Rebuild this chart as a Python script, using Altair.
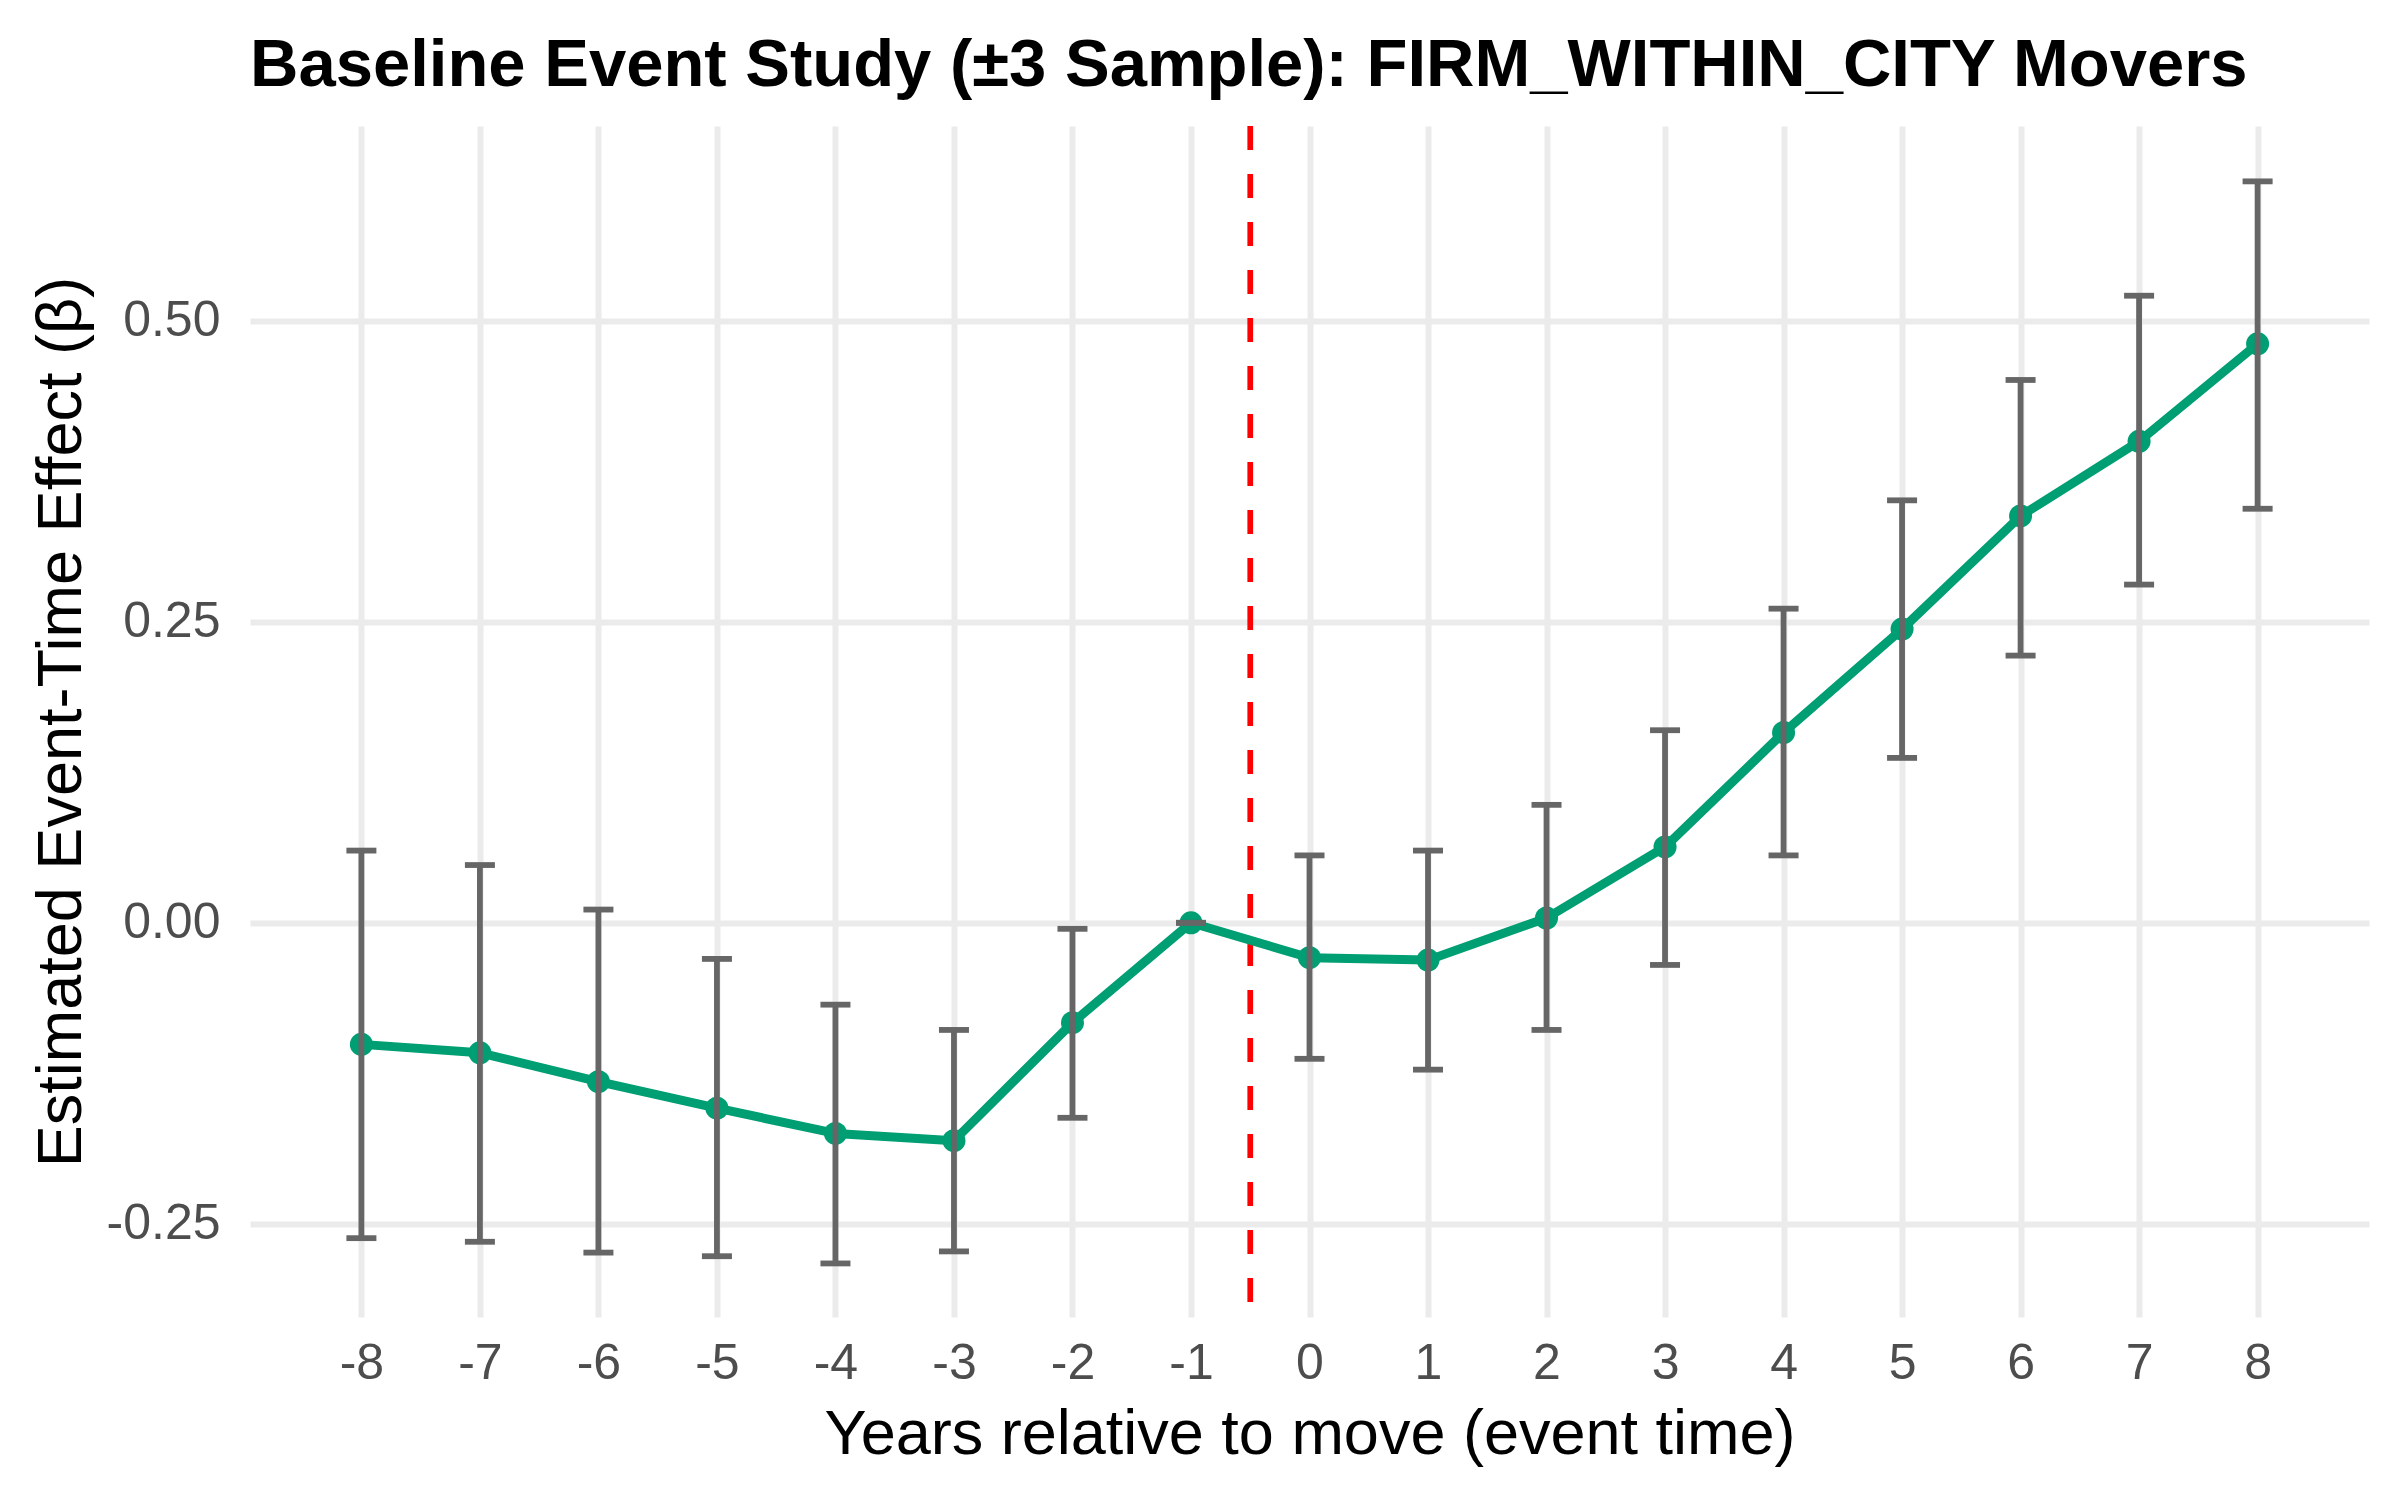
import pandas as pd
import altair as alt

# event time and estimates
event_time = [-8, -7, -6, -5, -4, -3, -2, -1, 0, 1, 2, 3, 4, 5, 6, 7, 8]
beta = [-0.101, -0.108, -0.132, -0.154, -0.175, -0.181, -0.083, 0.0,
        -0.029, -0.031, 0.004, 0.063, 0.158, 0.244, 0.338, 0.400, 0.481]
ci_low = [-0.262, -0.265, -0.274, -0.277, -0.283, -0.273, -0.162, 0.0,
          -0.113, -0.122, -0.089, -0.035, 0.056, 0.137, 0.222, 0.281, 0.344]
ci_high = [0.060, 0.048, 0.011, -0.030, -0.068, -0.089, -0.005, 0.0,
           0.056, 0.060, 0.098, 0.160, 0.261, 0.351, 0.451, 0.521, 0.616]
x_ticks = list(range(-8, 9))
y_ticks = [-0.25, 0.0, 0.25, 0.50]
move_line = [-0.5]

df = pd.DataFrame({"t": event_time, "beta": beta, "lo": ci_low, "hi": ci_high})
vline_df = pd.DataFrame({"t": move_line})

FONT = "Liberation Sans"
GREEN = "#009E73"
GREY = "#666666"

x_axis = alt.Axis(
    title="Years relative to move (event time)",
    values=x_ticks,
    format="d",
    labelExpr="replace(datum.label, '\u2212', '-')",
    labelFontSize=50, labelColor="#4D4D4D", labelPadding=21,
    titleFontSize=63, titleColor="black", titleFontWeight="normal", titlePadding=15,
    ticks=False, tickSize=0, domain=False,
    grid=True, gridColor="#EBEBEB", gridWidth=6,
    labelFont=FONT, titleFont=FONT,
)
y_axis = alt.Axis(
    title="Estimated Event-Time Effect (\u03b2)",
    values=y_ticks,
    format=".2f",
    labelExpr="replace(datum.label, '\u2212', '-')",
    labelFontSize=50, labelColor="#4D4D4D", labelPadding=30,
    titleFontSize=63, titleColor="black", titleFontWeight="normal", titlePadding=13,
    ticks=False, tickSize=0, domain=False,
    grid=True, gridColor="#EBEBEB", gridWidth=6,
    labelFont=FONT, titleFont=FONT,
)
x_scale = alt.Scale(domain=[-8.94, 8.94], nice=False, zero=False)
y_scale = alt.Scale(domain=[-0.3275, 0.662], nice=False, zero=False)

x_enc = alt.X("t:Q", scale=x_scale, axis=x_axis)

vline = (
    alt.Chart(vline_df)
    .mark_rule(color="#FF0000", strokeWidth=5.7, strokeDash=[24, 24])
    .encode(x=x_enc)
)

line = (
    alt.Chart(df)
    .mark_line(color=GREEN, strokeWidth=9, strokeJoin="round")
    .encode(x=x_enc, y=alt.Y("beta:Q", scale=y_scale, axis=y_axis))
)

points = (
    alt.Chart(df)
    .mark_circle(color=GREEN, size=530, opacity=1)
    .encode(x=x_enc, y=alt.Y("beta:Q", scale=y_scale, axis=y_axis))
)

bars = (
    alt.Chart(df)
    .mark_rule(color=GREY, strokeWidth=5.8)
    .encode(x=x_enc, y=alt.Y("lo:Q", scale=y_scale, axis=y_axis), y2="hi:Q")
)

cap_lo = (
    alt.Chart(df)
    .mark_tick(color=GREY, orient="horizontal", size=30, thickness=5.8, opacity=1)
    .encode(x=x_enc, y=alt.Y("lo:Q", scale=y_scale, axis=y_axis))
)
cap_hi = (
    alt.Chart(df)
    .mark_tick(color=GREY, orient="horizontal", size=30, thickness=5.8, opacity=1)
    .encode(x=x_enc, y=alt.Y("hi:Q", scale=y_scale, axis=y_axis))
)

chart = (
    alt.layer(vline, line, points, bars, cap_lo, cap_hi)
    .properties(
        width=2119,
        height=1191,
        background="white",
        autosize=alt.AutoSizeParams(type="none"),
        padding={"left": 242, "top": 118, "right": 23, "bottom": 175},
        title=alt.Title(
            text="Baseline Event Study (\u00b13 Sample): FIRM_WITHIN_CITY Movers",
            anchor="start",
            frame="group",
            font=FONT,
            fontSize=67,
            fontWeight="bold",
            color="black",
            baseline="alphabetic",
            offset=-30,
        ),
    )
    .configure_view(stroke="transparent", strokeWidth=0)
)

chart.save("out.html", embed_options={"renderer": "svg", "actions": False})
